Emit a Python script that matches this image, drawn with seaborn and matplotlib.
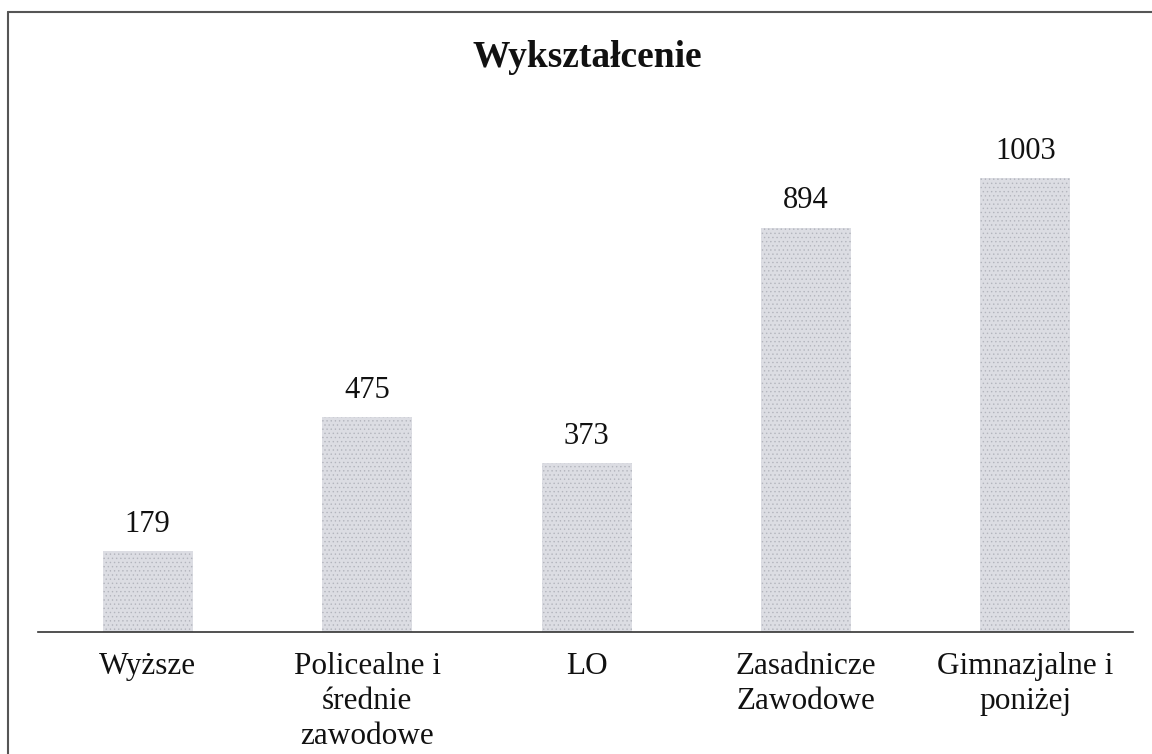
import numpy as np
import pandas as pd
import seaborn as sns
import matplotlib.pyplot as plt
from matplotlib.lines import Line2D

categories = ["Wyższe", "Policealne i\nśrednie\nzawodowe", "LO",
              "Zasadnicze\nZawodowe", "Gimnazjalne i\nponiżej"]
counts = [179, 475, 373, 894, 1003]

df = pd.DataFrame({"kat": categories, "n": counts})

sns.set_theme(style="white")
plt.rcParams["font.family"] = ["Liberation Serif", "DejaVu Serif"]
plt.rcParams["hatch.linewidth"] = 0.5

fig = plt.figure(figsize=(11.52, 7.54), dpi=100)
ax = fig.add_axes([0.033, 0.1618, 0.9505, 0.69])

sns.barplot(data=df, x="kat", y="n", color="#dcdde3", width=0.41,
            saturation=1, ax=ax, edgecolor="none")
for p in ax.patches:
    p.set_hatch("....")
    p.set_edgecolor("#b3b5bd")
    p.set_linewidth(0)

ax.set_xlim(-0.5, 4.49)
ax.set_ylim(0, 1150)
ax.bar_label(ax.containers[0], padding=9, fontsize=22, color="#111111")

ax.set_xlabel("")
ax.set_ylabel("")
ax.set_yticks([])
ax.tick_params(axis="x", labelsize=22.5, length=0, pad=14.5, colors="#111111")
for t in ax.get_xticklabels():
    t.set_linespacing(1.28)
    t.set_verticalalignment("top")
for s in ["top", "right", "left"]:
    ax.spines[s].set_visible(False)
ax.spines["bottom"].set_color("#333333")
ax.spines["bottom"].set_linewidth(1.2)

fig.text(0.5095, 1 - 67 / 754, "Wykształcenie", ha="center", va="baseline",
         fontsize=27, fontweight="bold", color="#111111")

# ramka skanu (lewa i górna krawędź)
fig.add_artist(Line2D([8 / 1152, 8 / 1152], [0, 1 - 12 / 754],
                      transform=fig.transFigure, color="#555555", lw=1.5))
fig.add_artist(Line2D([8 / 1152, 1], [1 - 12 / 754, 1 - 12 / 754],
                      transform=fig.transFigure, color="#555555", lw=1.5))

fig.savefig("out.png", dpi=100)
